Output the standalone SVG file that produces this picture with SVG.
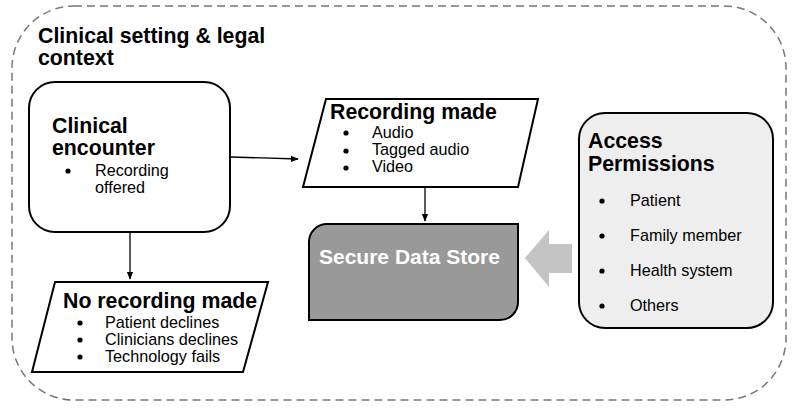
<svg xmlns="http://www.w3.org/2000/svg" width="796" height="412" viewBox="0 0 796 412">
<defs>
<style>
.t{font-family:"Liberation Sans",Arial,sans-serif;fill:#000}
.h{font-size:21.3px;font-weight:bold}
.s{font-size:16.2px}
.box{stroke:#000;stroke-width:2}
.con{stroke:#000;stroke-width:1.3;fill:none}
</style>
<marker id="ah" viewBox="0 0 10 10" refX="9" refY="5" markerWidth="8" markerHeight="8" markerUnits="userSpaceOnUse" orient="auto"><path d="M0,1 L10,5 L0,9 z" fill="#000"/></marker>
</defs>
<rect width="796" height="412" fill="#fff"/>
<g id="context">
<rect x="12" y="6" width="774" height="394" rx="62" ry="62" fill="none" stroke="#777" stroke-width="1.5" stroke-dasharray="8,5"/>
<text class="t h" x="38" y="43">Clinical setting &amp; legal</text>
<text class="t h" x="38" y="65">context</text>
</g>
<g id="encounter">
<rect class="box" x="29" y="82" width="201" height="150" rx="26" fill="#fff"/>
<text class="t h" x="52" y="133">Clinical</text>
<text class="t h" x="52" y="155">encounter</text>
<circle cx="68" cy="171" r="2.6"/>
<text class="t s" x="95" y="176">Recording</text>
<text class="t s" x="95" y="193">offered</text>
</g>
<g id="recording">
<polygon class="box" points="326,99 538,99 518,187 303,187" fill="#fff"/>
<text class="t h" x="330" y="119">Recording made</text>
<circle cx="346" cy="133" r="2.6"/><text class="t s" x="372" y="138">Audio</text>
<circle cx="346" cy="151" r="2.6"/><text class="t s" x="372" y="155">Tagged audio</text>
<circle cx="346" cy="168" r="2.6"/><text class="t s" x="372" y="172">Video</text>
</g>
<g id="norecording">
<polygon class="box" points="55,282 268,282 243,372 32,372" fill="#fff"/>
<text class="t h" x="63" y="308">No recording made</text>
<circle cx="80" cy="323" r="2.6"/><text class="t s" x="105" y="328">Patient declines</text>
<circle cx="80" cy="340" r="2.6"/><text class="t s" x="105" y="345">Clinicians declines</text>
<circle cx="80" cy="357" r="2.6"/><text class="t s" x="105" y="362">Technology fails</text>
</g>
<g id="store">
<path class="box" d="M326,224 H518 V302 A18,18 0 0 1 500,320 H309 V242 A18,18 0 0 1 326,224 Z" fill="#999"/>
<text x="319" y="264" style="font-family:'Liberation Sans',Arial,sans-serif;font-size:21px;font-weight:bold;fill:#fff">Secure Data Store</text>
</g>
<g id="permissions">
<rect class="box" x="579" y="113" width="194" height="215" rx="26" fill="#eee"/>
<text class="t h" x="588" y="148">Access</text>
<text class="t h" x="588" y="171">Permissions</text>
<circle cx="602" cy="201" r="2.6"/><text class="t s" x="630" y="206">Patient</text>
<circle cx="602" cy="236" r="2.6"/><text class="t s" x="630" y="241">Family member</text>
<circle cx="602" cy="271" r="2.6"/><text class="t s" x="630" y="276">Health system</text>
<circle cx="602" cy="306" r="2.6"/><text class="t s" x="630" y="311">Others</text>
</g>
<g id="connectors">
<line class="con" x1="230" y1="157" x2="298" y2="159" marker-end="url(#ah)"/>
<line class="con" x1="425" y1="187" x2="425" y2="221" marker-end="url(#ah)"/>
<line class="con" x1="130" y1="232" x2="130" y2="279" marker-end="url(#ah)"/>
<polygon points="525,258 549,230 549,244 572,244 572,273 549,273 549,287" fill="#c4c4c4"/>
</g>
</svg>
